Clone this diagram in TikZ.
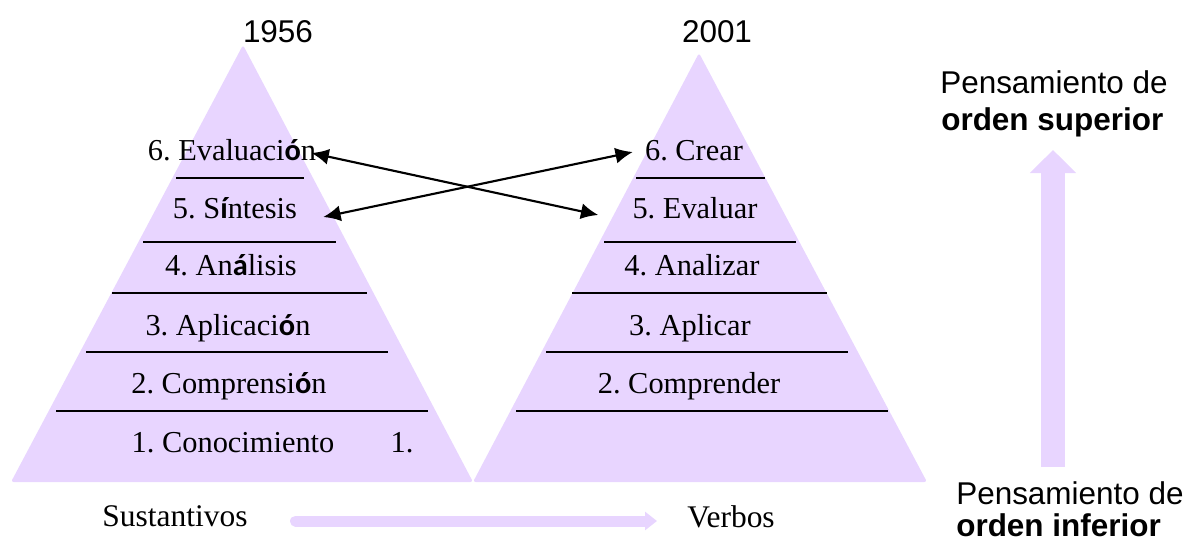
\documentclass[tikz,border=0pt]{standalone}
\usepackage{fontspec}
\setmainfont{Liberation Serif}
\newfontfamily\arialfont{Liberation Sans}
\newfontfamily\accfont{Carlito}
\usetikzlibrary{arrows.meta}
\definecolor{lila}{RGB}{232,213,255}
\frenchspacing
% accented letters are set in a bold sans, as in the original
\newcommand{\acc}[1]{{\accfont\bfseries #1}}

\begin{document}
\begin{tikzpicture}[x=0.75pt,y=-0.75pt,>={Latex[length=13pt,width=12pt]},
    lvl/.style={anchor=base,inner sep=0pt,font=\fontsize{22.8}{27}\selectfont},
    year/.style={anchor=base,inner sep=0pt,font=\arialfont\fontsize{23.6}{28}\selectfont},
    side/.style={anchor=base west,inner sep=0pt,font=\arialfont\fontsize{23.6}{28}\selectfont},
    rule/.style={line width=1.5pt},
    link/.style={<->,line width=1.6pt}]
        \useasboundingbox (0,0) rectangle (1187,543);

        % draw the two pyramids
        \fill[lila,rounded corners=2pt] (11,482) -- (243,45) -- (473,482) -- cycle;
        \fill[lila,rounded corners=2pt] (473,482) -- (699,53) -- (927,482) -- cycle;

        % the years on top
        \node[year] (y56) at (278,42) {1956};
        \node[year] (y01) at (717,42) {2001};

        % levels of 1956
        \node[lvl] (ev56)  at (232,160) {6. Evaluaci\acc{ó}n};
        \node[lvl] (sin56) at (235,218) {5. S\acc{í}ntesis};
        \node[lvl] (ana56) at (231,275) {4. An\acc{á}lisis};
        \node[lvl] (apl56) at (228,335) {3. Aplicaci\acc{ó}n};
        \node[lvl] (com56) at (229,393) {2. Comprensi\acc{ó}n};
        \node[lvl] (con56) at (233,452) {1. Conocimiento};
        \node[lvl] (one56) at (402,452) {1.};

        \draw[rule] (176,178) -- (304,178);
        \draw[rule] (143,242) -- (336,242);
        \draw[rule] (112,293) -- (367,293);
        \draw[rule] (86,352)  -- (388,352);
        \draw[rule] (56,411)  -- (428,411);

        % levels of 2001
        \node[lvl] (cre01) at (694,160) {6. Crear};
        \node[lvl] (eva01) at (695,218) {5. Evaluar};
        \node[lvl] (anz01) at (692,275) {4. Analizar};
        \node[lvl] (apc01) at (690,335) {3. Aplicar};
        \node[lvl] (cpr01) at (689,393) {2. Comprender};

        \draw[rule] (636,178) -- (765,178);
        \draw[rule] (604,242) -- (796,242);
        \draw[rule] (572,293) -- (827,293);
        \draw[rule] (546,352) -- (848,352);
        \draw[rule] (516,411) -- (888,411);

        % the crossing arrows
        \draw[link] ([shift={(-5,-7)}]ev56.base east) -- ([shift={(-34,-3)}]eva01.base west);
        \draw[link] ([shift={(26,-1)}]sin56.base east) -- ([shift={(-12,-8)}]cre01.base west);

        % nouns to verbs
        \node[lvl,font=\fontsize{23.6}{28}\selectfont] (sus) at (175,526) {Sustantivos};
        \node[lvl,font=\fontsize{23.6}{28}\selectfont] (ver) at (731,527) {Verbos};
        \coordinate (susR) at (295.5,521);
        \coordinate (verL) at (657,521);
        \draw[lila,line width=8.25pt,line cap=round,-{Triangle[length=9pt,width=13.5pt]}] (susR) -- (verL);

        % lower to higher order thinking
        \node[side] (hiA) at (940,93)  {Pensamiento de};
        \node[side] (hiB) at (941,130) {\bfseries orden superior};
        \node[side] (loA) at (956,504) {Pensamiento de};
        \node[side] (loB) at (956,536) {\bfseries orden inferior};
        \coordinate (lowP)  at (1053,467);
        \coordinate (highP) at (1053,150);
        \draw[lila,line width=18pt,-{Triangle[length=17.25pt,width=33.75pt]}] (lowP) -- (highP);
\end{tikzpicture}
\end{document}
